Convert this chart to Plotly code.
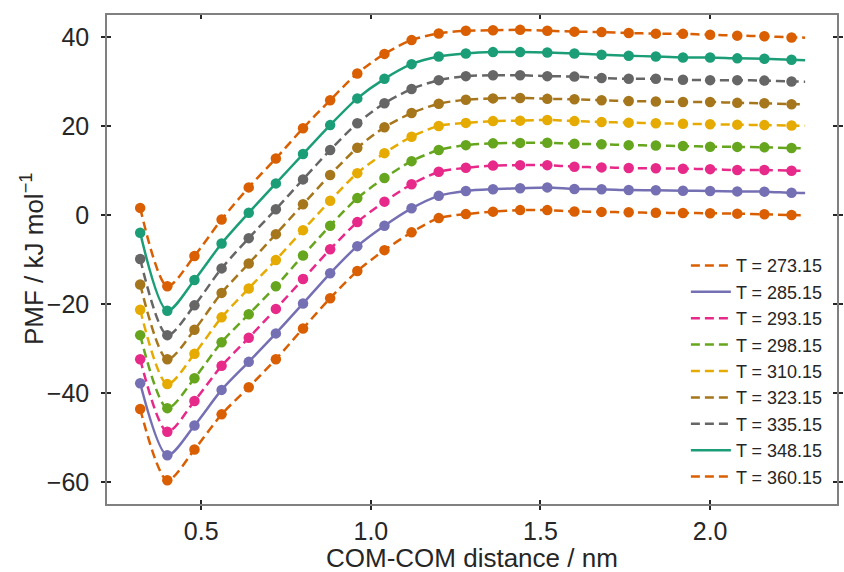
import plotly.graph_objects as go

# ---- data ----
distance = [0.32, 0.40, 0.48, 0.56, 0.64, 0.72, 0.80, 0.88, 0.96, 1.04, 1.12, 1.20, 1.28,
            1.36, 1.44, 1.52, 1.60, 1.68, 1.76, 1.84, 1.92, 2.00, 2.08, 2.16, 2.24]
line_end_x = 2.28

temps = ["273.15", "285.15", "293.15", "298.15", "310.15", "323.15", "335.15", "348.15", "360.15"]

pmf_273 = [-43.6, -59.6, -52.7, -44.8, -38.7, -32.4, -25.5, -18.7, -12.6, -7.9, -3.9, -0.7, 0.2,
           0.75, 1.1, 1.1, 0.8, 0.7, 0.6, 0.5, 0.45, 0.4, 0.3, 0.15, 0.0]
pmf_285 = [-37.8, -54.0, -47.3, -39.3, -33.0, -26.6, -19.9, -13.1, -7.0, -2.4, 1.5, 4.3, 5.4,
           5.8, 6.0, 6.2, 5.85, 5.8, 5.6, 5.55, 5.45, 5.4, 5.3, 5.25, 5.0]
pmf_293 = [-32.4, -48.7, -41.8, -33.9, -27.6, -21.1, -14.4, -7.7, -1.6, 3.0, 6.9, 9.7, 10.6,
           11.1, 11.2, 11.2, 10.85, 10.7, 10.55, 10.5, 10.4, 10.3, 10.1, 10.1, 9.95]
pmf_298 = [-27.0, -43.4, -36.7, -28.6, -22.3, -16.0, -9.1, -2.4, 3.8, 8.3, 12.1, 14.6, 15.7,
           16.1, 16.2, 16.25, 16.0, 15.9, 15.7, 15.6, 15.5, 15.35, 15.3, 15.2, 15.05]
pmf_310 = [-21.3, -38.0, -31.2, -23.0, -16.5, -10.1, -3.4, 3.2, 9.4, 13.9, 17.6, 20.0, 20.7,
           21.1, 21.2, 21.35, 21.1, 20.9, 20.75, 20.6, 20.5, 20.4, 20.3, 20.2, 20.1]
pmf_323 = [-15.6, -32.4, -25.8, -17.5, -10.9, -4.3, 2.4, 9.0, 15.1, 19.7, 22.9, 25.0, 25.9,
           26.2, 26.3, 26.1, 26.0, 25.8, 25.6, 25.5, 25.4, 25.4, 25.2, 25.1, 24.9]
pmf_335 = [-9.9, -27.0, -20.3, -12.0, -5.2, 1.3, 8.0, 14.6, 20.6, 25.1, 28.3, 30.3, 31.2,
           31.4, 31.4, 31.2, 31.1, 30.8, 30.6, 30.6, 30.4, 30.3, 30.3, 30.2, 30.0]
pmf_348 = [-4.0, -21.5, -14.6, -6.4, 0.5, 7.1, 13.7, 20.2, 26.2, 30.6, 33.9, 35.6, 36.3,
           36.6, 36.6, 36.5, 36.3, 36.0, 35.8, 35.6, 35.4, 35.4, 35.2, 35.1, 34.9]
pmf_360 = [1.6, -16.0, -9.2, -1.0, 6.2, 12.7, 19.5, 25.8, 31.8, 36.2, 39.3, 40.8, 41.4,
           41.5, 41.6, 41.4, 41.2, 41.1, 40.9, 40.75, 40.7, 40.5, 40.3, 40.15, 39.9]
line_end_vals = [-0.05, 4.95, 9.9, 15.0, 20.05, 24.85, 29.95, 34.8, 39.85]

series = [pmf_273, pmf_285, pmf_293, pmf_298, pmf_310, pmf_323, pmf_335, pmf_348, pmf_360]
colors = ["#d95f02", "#7570b3", "#e7298a", "#66a61e", "#e6ab02", "#a6761d", "#666666", "#1b9e77", "#d95f02"]
dashes = ["9px,5px", "solid", "9px,5px", "9px,5px", "9px,5px", "9px,5px", "9px,5px", "solid", "9px,5px"]

x_ticks = [0.5, 1.0, 1.5, 2.0]
x_ticklabels = ["0.5", "1.0", "1.5", "2.0"]
y_ticks = [-60, -40, -20, 0, 20, 40]
x_title = "COM-COM distance / nm"
y_title = "PMF / kJ mol<sup>−1</sup>"

FONT = "Liberation Sans, Arial, sans-serif"
TXT = "#262626"

fig = go.Figure()
for t, ys, c, d, ye in zip(temps, series, colors, dashes, line_end_vals):
    fig.add_trace(go.Scatter(
        x=distance + [line_end_x], y=ys + [ye], mode="lines",
        line=dict(color=c, width=2.5, dash=d, shape="spline", smoothing=0.8),
        name=f"T = {t}", legendgroup=t,
    ))
for t, ys, c in zip(temps, series, colors):
    fig.add_trace(go.Scatter(
        x=distance, y=ys, mode="markers",
        marker=dict(color=c, size=10.5, line=dict(width=0)),
        showlegend=False, legendgroup=t, hoverinfo="skip",
    ))
# dummy trace for overlay axes (inner half of ticks)
fig.add_trace(go.Scatter(x=[None], y=[None], xaxis="x2", yaxis="y2", showlegend=False))

xr = [0.2222, 2.374]
yr = [-64.94, 44.94]
common_tick = dict(ticklen=4, tickwidth=2, tickcolor=TXT)

fig.update_layout(
    width=844, height=572,
    margin=dict(l=107, r=1, t=15, b=68),
    paper_bgcolor="white", plot_bgcolor="white",
    font=dict(family=FONT, color=TXT),
    xaxis=dict(
        range=xr, tickvals=x_ticks, ticktext=x_ticklabels, ticks="outside",
        showline=True, linecolor="#808080", linewidth=1.5, mirror=True,
        showgrid=False, zeroline=False, ticklabelstandoff=0,
        tickfont=dict(size=25, family=FONT, color=TXT),
        **common_tick,
    ),
    yaxis=dict(
        range=yr, tickvals=y_ticks, ticks="outside",
        showline=True, linecolor="#808080", linewidth=1.5, mirror="ticks",
        showgrid=False, zeroline=False, ticklabelstandoff=7,
        tickfont=dict(size=25, family=FONT, color=TXT),
        **common_tick,
    ),
    xaxis2=dict(
        range=xr, overlaying="x", tickvals=x_ticks, ticks="inside", showticklabels=False,
        showline=False, mirror="ticks", showgrid=False, zeroline=False, anchor="y2",
        **common_tick,
    ),
    yaxis2=dict(
        range=yr, overlaying="y", tickvals=y_ticks, ticks="inside", showticklabels=False,
        showline=False, mirror="ticks", showgrid=False, zeroline=False, anchor="x2",
        **common_tick,
    ),
    legend=dict(
        x=0.793, y=0.018, xanchor="left", yanchor="bottom",
        font=dict(size=18, family=FONT, color=TXT),
        bgcolor="rgba(0,0,0,0)", borderwidth=0,
        traceorder="grouped", tracegroupgap=0, itemwidth=40,
    ),
    annotations=[
        dict(text=x_title, xref="paper", yref="paper", x=0.5, y=-0.110,
             xanchor="center", yanchor="middle", showarrow=False,
             font=dict(size=26, family=FONT, color=TXT)),
        dict(text=y_title, xref="paper", yref="paper", x=-0.102, y=0.5, textangle=-90,
             xanchor="center", yanchor="middle", showarrow=False,
             font=dict(size=26, family=FONT, color=TXT)),
    ],
    showlegend=True,
)

fig.write_html("out.html")
